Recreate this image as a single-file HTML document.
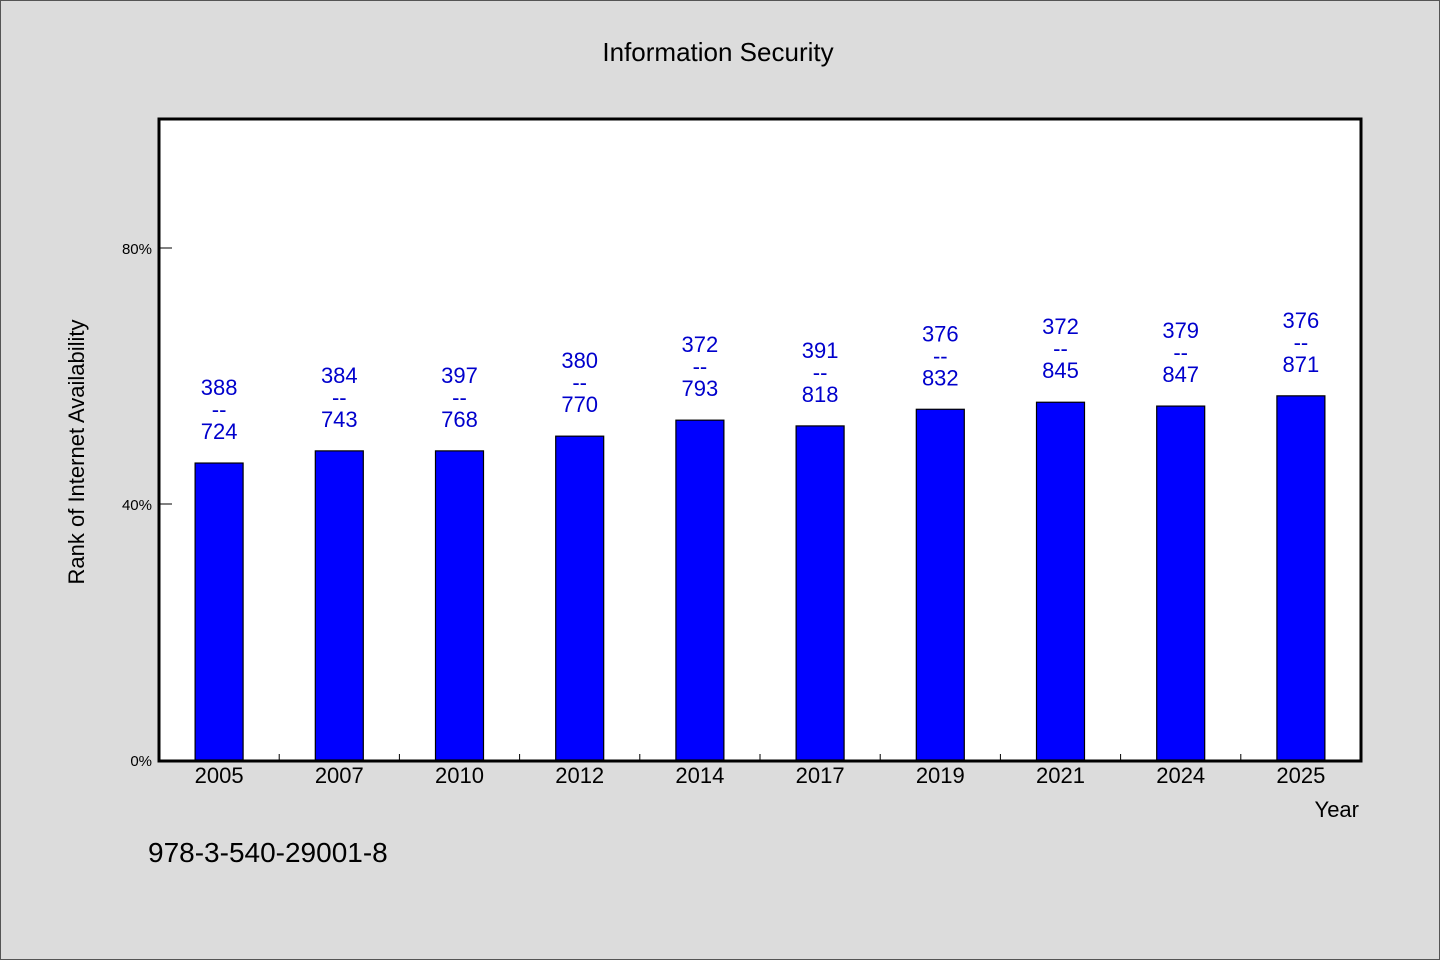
<!DOCTYPE html>
<html><head><meta charset="utf-8"><style>
html,body{margin:0;padding:0;background:#dcdcdc;}
svg{display:block;font-family:"WenQuanYi Zen Hei","Liberation Sans",sans-serif;}
</style></head><body>
<svg id="chart" width="1440" height="960" xmlns="http://www.w3.org/2000/svg">
<rect x="0.5" y="0.5" width="1439" height="959" fill="#dcdcdc" stroke="#555"/>
<text x="718" y="61" text-anchor="middle" font-size="26" fill="#000">Information Security</text>
<rect x="159" y="119" width="1202" height="642" fill="#fff"/>
<g id="bars"></g>
<g id="axes"></g>
<rect x="159" y="119" width="1202" height="642" fill="none" stroke="#000" stroke-width="3"/>
<text transform="translate(84,452) rotate(-90)" text-anchor="middle" font-size="22" fill="#000">Rank of Internet Availability</text>
<text x="1359" y="817" text-anchor="end" font-size="22" fill="#000">Year</text>
<text x="148" y="862" font-size="28" fill="#000">978-3-540-29001-8</text>
</svg>
<script>
const categories=["2005","2007","2010","2012","2014","2017","2019","2021","2024","2025"];
const values=[46.4,48.3,48.3,50.6,53.1,52.2,54.8,55.9,55.3,56.9];
const topLabels=["388","384","397","380","372","391","376","372","379","376"];
const bottomLabels=["724","743","768","770","793","818","832","845","847","871"];
const yTicks=[0,40,80];
const yTickLabels=["0%","40%","80%"];
const NS="http://www.w3.org/2000/svg";
const X0=159,X1=1361,Y0=760,YT=120,YMAX=100;
const bw=(X1-X0)/categories.length;
const xs=i=>X0+bw*(i+0.5);
const ys=v=>Y0-(v/YMAX)*(Y0-YT);
function mk(tag,attrs,parent,txt){const e=document.createElementNS(NS,tag);for(const k in attrs)e.setAttribute(k,attrs[k]);if(txt!==undefined)e.textContent=txt;parent.appendChild(e);return e;}
const bars=document.getElementById('bars'),axes=document.getElementById('axes');
categories.forEach((c,i)=>{
  const cx=xs(i),y=ys(values[i]);
  const r=mk('rect',{x:cx-24,y:y,width:48,height:Y0-y,fill:'#0000ff',stroke:'#000','stroke-width':1.2},bars);
  
  
  const g=mk('text',{x:cx,'text-anchor':'middle','font-size':22,fill:'#0000cc'},bars);
  
  
  mk('tspan',{x:cx,y:y-68},g,topLabels[i]);
  mk('tspan',{x:cx,y:y-46},g,'--');
  mk('tspan',{x:cx,y:y-24},g,bottomLabels[i]);
  const t=mk('text',{x:cx,y:783,'text-anchor':'middle','font-size':22,fill:'#000'},axes,c);
  
  
  if(i>0){const l=mk('line',{x1:X0+bw*i,x2:X0+bw*i,y1:Y0,y2:Y0-6,stroke:'#000','stroke-width':1},axes);
  
  }
});
yTicks.forEach((v,i)=>{
  const y=ys(v);
  const l=mk('line',{x1:X0,x2:X0+13,y1:y,y2:y,stroke:'#000','stroke-width':1},axes);
  
  
  const t=mk('text',{x:152,y:y+6,'text-anchor':'end','font-size':15,fill:'#000'},axes,yTickLabels[i]);
  
  
});
</script>
</body></html>
